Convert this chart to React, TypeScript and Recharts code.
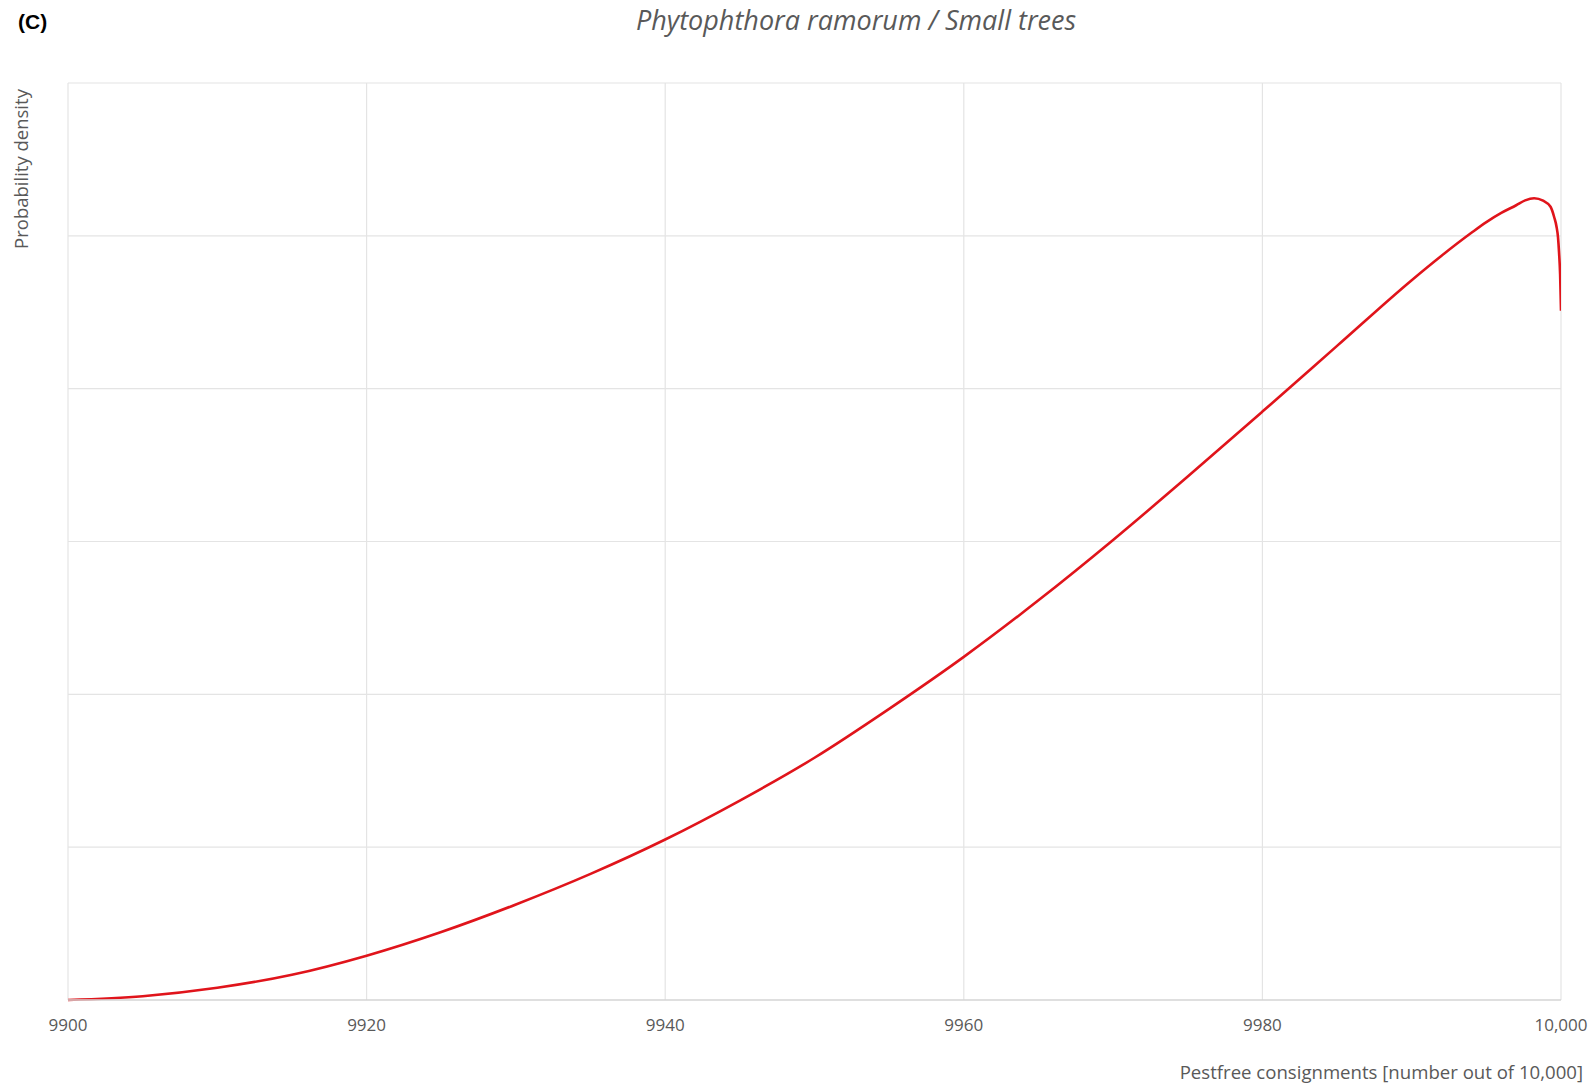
import { CartesianGrid, Line, LineChart, ReferenceLine, XAxis, YAxis } from "recharts";

// Pest-free consignments out of 10,000 and the density read at each one
const consignments = [
  9900, 9905, 9910, 9915, 9920, 9925, 9930, 9935, 9940, 9945, 9950, 9955, 9960,
  9965, 9970, 9975, 9980, 9985, 9990, 9992, 9994, 9995, 9996, 9997, 9997.6,
  9998.2, 9998.8, 9999.3, 9999.55, 9999.7, 9999.8, 9999.87, 9999.94, 10000,
];
const density = [
  0, 0.025, 0.08, 0.165, 0.29, 0.445, 0.625, 0.825, 1.05, 1.305, 1.585, 1.905,
  2.245, 2.615, 3.01, 3.425, 3.85, 4.28, 4.71, 4.87, 5.02, 5.09, 5.15, 5.2,
  5.232, 5.246, 5.23, 5.19, 5.12, 5.06, 4.99, 4.89, 4.75, 4.51,
];

const xTicks = [9900, 9920, 9940, 9960, 9980, 10000];
const yTicks = [0, 1, 2, 3, 4, 5, 6];

const data = consignments.map((x, i) => ({ x, density: density[i] }));

const WIDTH = 1594;
const HEIGHT = 1085;
const TEXT = "#595959";
const GRID = "#e4e4e4";
const FONT = "'Open Sans', sans-serif";

const formatTick = (value: number) =>
  value >= 10000 ? value.toLocaleString("en-US") : String(value);

export default function App() {
  return (
    <div
      style={{
        position: "absolute",
        left: 0,
        top: 0,
        width: WIDTH,
        height: HEIGHT,
        background: "#ffffff",
        fontFamily: FONT,
      }}
    >
      <div
        style={{
          position: "absolute",
          left: 18,
          top: 11,
          fontFamily: "'Liberation Sans', Arial, sans-serif",
          fontWeight: 700,
          fontSize: 21,
          lineHeight: 1,
          color: "#000000",
        }}
      >
        (C)
      </div>
      <div
        style={{
          position: "absolute",
          left: 856,
          top: 4,
          transform: "translateX(-50%)",
          whiteSpace: "nowrap",
          fontStyle: "italic",
          fontSize: 27,
          lineHeight: 1.2,
          color: TEXT,
        }}
      >
        Phytophthora ramorum / Small trees
      </div>
      <div
        style={{
          position: "absolute",
          left: 21,
          top: 169,
          transform: "translate(-50%, -50%) rotate(-90deg)",
          whiteSpace: "nowrap",
          fontSize: 18.5,
          lineHeight: 1.2,
          color: TEXT,
        }}
      >
        Probability density
      </div>
      <div
        style={{
          position: "absolute",
          right: 11,
          top: 1061,
          whiteSpace: "nowrap",
          fontSize: 18.6,
          lineHeight: 1.2,
          color: TEXT,
        }}
      >
        Pestfree consignments [number out of 10,000]
      </div>
      <LineChart
        width={WIDTH}
        height={HEIGHT}
        data={data}
        margin={{ top: 83, right: 33, left: 68, bottom: 0 }}
      >
        <CartesianGrid
          stroke={GRID}
          strokeWidth={1.2}
          horizontal={false}
          verticalValues={xTicks}
        />
        {yTicks.slice(1).map((v) => (
          <ReferenceLine
            key={v}
            y={v}
            stroke={GRID}
            strokeWidth={1.2}
            ifOverflow="extendDomain"
          />
        ))}
        <XAxis
          dataKey="x"
          type="number"
          domain={[9900, 10000]}
          ticks={xTicks}
          tickFormatter={formatTick}
          height={85}
          stroke="#d4d4d4"
          strokeWidth={1.5}
          tickLine={false}
          tickMargin={13}
          tick={{ fill: TEXT, fontSize: 17, fontFamily: FONT }}
          allowDataOverflow
        />
        <YAxis
          type="number"
          domain={[0, 6]}
          ticks={yTicks}
          width={0}
          tick={false}
          tickLine={false}
          axisLine={false}
        />
        <Line
          type="monotone"
          dataKey="density"
          stroke="#e0141b"
          strokeWidth={2.6}
          dot={false}
          activeDot={false}
          isAnimationActive={false}
        />
      </LineChart>
    </div>
  );
}
